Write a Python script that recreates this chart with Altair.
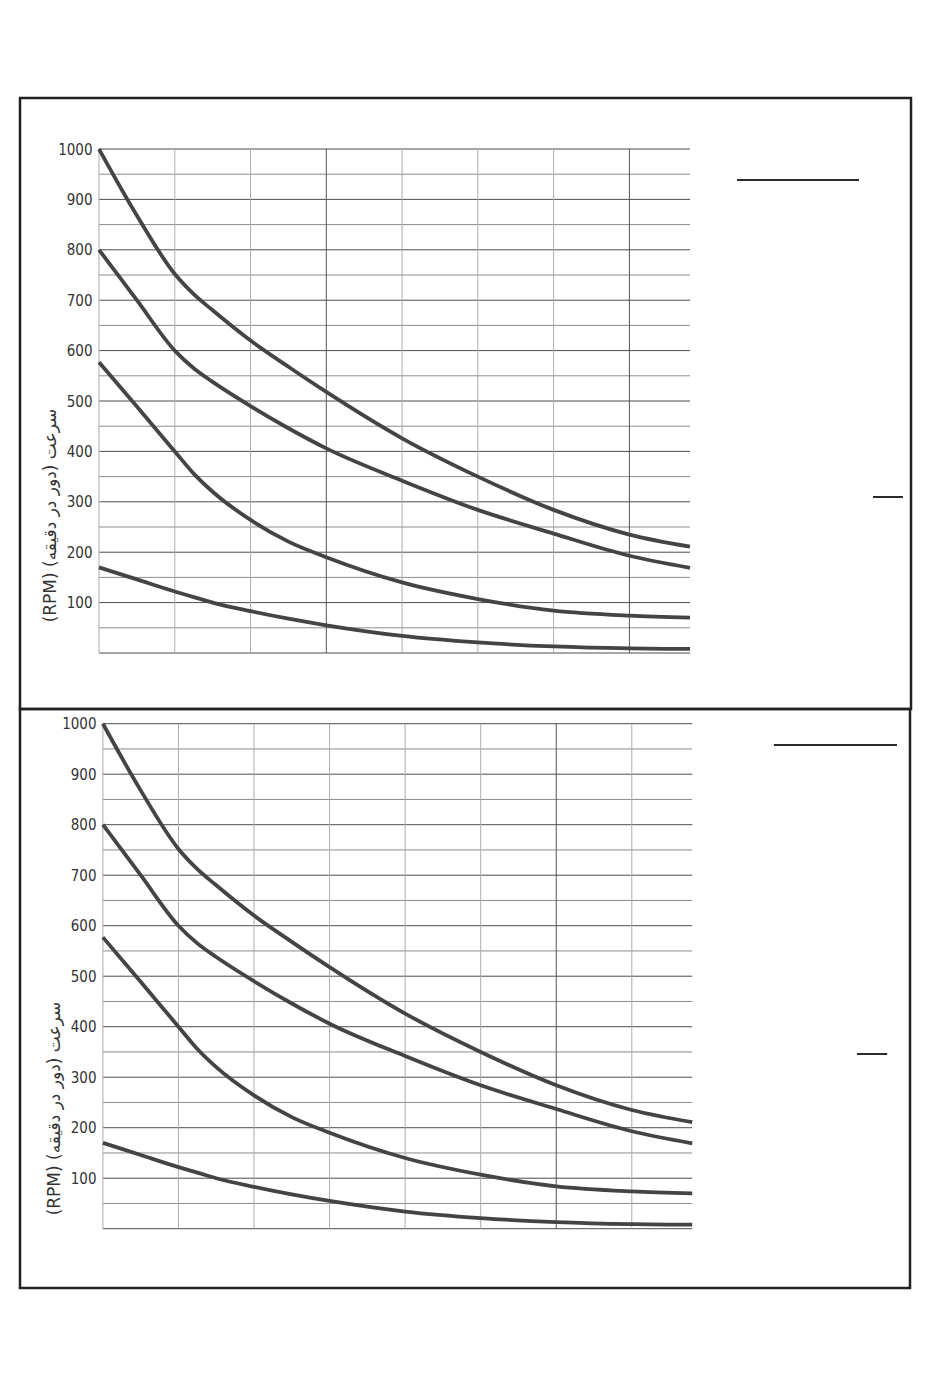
import altair as alt
import pandas as pd

# ---- data ----
speed_x = [0, 0.5, 1, 1.25, 1.5, 2, 2.5, 3, 4, 5, 6, 7, 7.8]
curve_a = [1000, 868, 752, 712, 680, 620, 568, 518, 426, 350, 284, 235, 211]
curve_b = [800, 700, 600, 565, 538, 490, 446, 406, 342, 284, 237, 193, 169]
curve_c = [577, 489, 400, 356, 320, 264, 221, 190, 140, 107, 84, 74, 70]
curve_d = [170, 146, 122, 111, 100, 83, 68, 55, 34, 21, 13, 9, 8]
series_names = ["a", "b", "c", "d"]

grid_cols = [0, 1, 2, 3, 4, 5, 6, 7]
grid_rows = list(range(0, 1001, 50))
tick_labels = [100, 200, 300, 400, 500, 600, 700, 800, 900, 1000]
y_title = "(RPM) سرعت (دور در دقیقه)"

# short annotation strokes at right (in data units)
ann_top_x = [8.42, 10.215]
ann_top_x2 = [10.03, 10.61]
ann_top_y = [938.5, 309.5]
ann_bot_x = [8.88, 9.98]
ann_bot_x2 = [10.51, 10.38]
ann_bot_y = [957.8, 345.9]

curves = pd.DataFrame({
    "x": speed_x * 4,
    "rpm": curve_a + curve_b + curve_c + curve_d,
    "series": sum([[n] * len(speed_x) for n in series_names], []),
})

hgrid = pd.DataFrame({"y": grid_rows, "x0": [speed_x[0]] * len(grid_rows),
                      "x1": [speed_x[-1]] * len(grid_rows)})
vgrid = pd.DataFrame({"x": grid_cols, "y0": [0] * len(grid_cols),
                      "y1": [1000] * len(grid_cols)})

LABEL_FONT = "Liberation Sans Narrow, DejaVu Sans Condensed, sans-serif"
TITLE_FONT = "DejaVu Sans, sans-serif"


def panel(w, h, xdom, ydom, axis_off, title_y, ann_x, ann_x2, ann_y, dark_test):
    xs = alt.Scale(domain=xdom, nice=False, zero=False)
    ys = alt.Scale(domain=ydom, nice=False, zero=False)

    yaxis = alt.Axis(values=tick_labels, grid=False, domain=False, ticks=False,
                     offset=-axis_off, labelPadding=7, labelFont=LABEL_FONT,
                     labelFontSize=15, labelColor="#333", format="d",
                     labelOverlap=False, labelBound=False,
                     title=y_title, titleX=-49, titleY=title_y, titleAngle=270,
                     titleBaseline="middle", titleAlign="center",
                     titleFont=TITLE_FONT, titleFontSize=17,
                     titleFontWeight="normal", titleColor="#333")

    h_rules = alt.Chart(hgrid).mark_rule(strokeWidth=1).encode(
        y=alt.Y("y:Q", scale=ys, axis=yaxis),
        x=alt.X("x0:Q", scale=xs, axis=None),
        x2="x1:Q",
        color=alt.condition("datum.y % 100 == 0", alt.value("#4d4d4d"),
                            alt.value("#8c8c8c")),
    )
    v_rules = alt.Chart(vgrid).mark_rule(strokeWidth=1).encode(
        x=alt.X("x:Q", scale=xs, axis=None),
        y=alt.Y("y0:Q", scale=ys, axis=yaxis),
        y2="y1:Q",
        color=alt.condition(dark_test, alt.value("#555555"), alt.value("#adadad")),
    )
    lines = alt.Chart(curves).mark_line(interpolate="monotone", strokeWidth=3.8,
                                        color="#444444", strokeCap="butt").encode(
        x=alt.X("x:Q", scale=xs, axis=None),
        y=alt.Y("rpm:Q", scale=ys, axis=yaxis),
        detail="series:N",
    )
    ann = alt.Chart(pd.DataFrame({"x": ann_x, "x2": ann_x2, "y": ann_y})).mark_rule(
        strokeWidth=2, color="#2b2b2b").encode(
        x=alt.X("x:Q", scale=xs, axis=None),
        x2="x2:Q",
        y=alt.Y("y:Q", scale=ys, axis=yaxis),
    )
    return alt.layer(h_rules, v_rules, lines, ann).properties(width=w, height=h)


top = panel(891, 611, [-1.0426, 10.7166], [-111.1, 1101.2], 79, 417,
            ann_top_x, ann_top_x2, ann_top_y, "datum.x == 3 || datum.x == 7")
bottom = panel(890, 579, [-1.0973, 10.682], [-117.4, 1029.1], 83, 399,
               ann_bot_x, ann_bot_x2, ann_bot_y, "datum.x == 6")

chart = alt.vconcat(top, bottom, spacing=0, bounds="flush").properties(
    padding={"top": 88, "left": 10, "right": 10, "bottom": 10},
    background="white",
).configure_view(stroke="#222222", strokeWidth=2.5).configure_concat(spacing=0)

chart.save("out.html", embed_options={"renderer": "svg", "actions": False})
